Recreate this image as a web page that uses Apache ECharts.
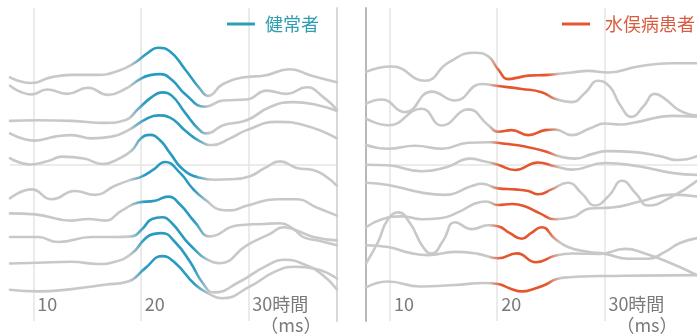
<!DOCTYPE html>
<html>
<head>
<meta charset="utf-8">
<script src="https://cdn.jsdelivr.net/npm/echarts@6/dist/echarts.min.js"></script>
<style>
html, body { margin: 0; padding: 0; background: #fff; }
#chart { width: 697px; height: 336px; }
</style>
</head>
<body>
<div id="chart"></div>
<script>
// Group names (legend) and time-axis labels
const groupNames = ['健常者', '水俣病患者'];
const tickLabels = { 10: '10', 20: '20', 30: '30時間' };
const unitLabel = '（ms）';

// Time window (ms) where each group's response is highlighted: fade-in start, full, full, fade-out end
const healthyWindow = [19.0, 20.4, 24.9, 26.4];
const patientWindow = [19.3, 20.4, 24.6, 25.8];

// 健常者: ten evoked traces, [time ms, amplitude offset]
const healthy1 = [[7.83,24.67],[9.85,24.1],[11.55,24.65],[13.6,24.93],[16.02,24.93],[17.88,25.33],[19.46,26.17],[20.67,27.17],[21.6,27.67],[22.72,27.3],[24.11,25.5],[25.51,23.5],[26.25,22.8],[27.65,24.0],[29.88,24.72],[31.37,24.83],[33.88,25.5],[35.74,24.9],[38.25,24.17]];
const healthy2 = [[7.83,23.83],[9.88,22.95],[11.28,23.45],[13.13,23.0],[15.09,23.62],[16.95,22.9],[18.53,23.5],[19.93,24.5],[20.86,24.9],[21.79,25.0],[22.9,24.4],[24.11,23.0],[25.97,21.7],[27.65,22.33],[29.85,22.43],[31.71,23.33],[33.57,23.0],[35.43,23.67],[36.95,22.7],[38.25,21.4]];
const healthy3 = [[7.83,20.27],[10.44,20.33],[13.57,20.27],[16.67,20.07],[18.53,20.33],[19.77,21.5],[21.01,22.67],[21.97,23.15],[22.9,22.8],[24.11,21.1],[25.32,19.5],[26.16,19.0],[27.65,19.83],[29.85,20.33],[32.02,21.67],[34.19,22.17],[36.57,21.83],[38.25,21.27]];
const healthy4 = [[7.83,19.0],[10.16,18.27],[12.02,18.67],[13.57,18.83],[15.43,18.5],[17.29,18.67],[18.84,19.33],[20.39,20.4],[21.63,20.83],[22.72,20.6],[24.11,19.3],[25.51,18.2],[26.63,17.83],[28.3,18.5],[29.85,19.33],[32.64,20.17],[35.2,19.83],[38.25,18.5]];
const healthy5 = [[7.83,16.5],[9.69,15.85],[11.37,16.2],[12.67,16.65],[14.72,16.45],[16.48,15.9],[17.88,16.4],[19.18,17.3],[20.02,18.5],[20.86,18.85],[21.79,18.3],[22.72,17.0],[23.93,15.35],[25.51,14.5],[26.9,14.3],[28.3,14.35],[30.16,14.67],[31.55,15.5],[32.95,16.17],[34.5,15.5],[36.02,15.3],[37.14,14.7],[38.25,13.7]];
const healthy6 = [[7.83,12.43],[9.85,13.33],[11.71,12.33],[13.88,13.17],[15.74,12.77],[17.6,13.7],[19.15,14.33],[20.02,14.6],[21.13,15.3],[22.25,16.1],[23.65,15.0],[24.89,13.33],[26.13,12.17],[27.28,11.3],[28.3,11.2],[29.85,11.67],[32.64,12.33],[34.5,12.33],[36.36,11.5],[38.25,10.67]];
const healthy7 = [[7.83,10.9],[10.16,10.8],[13.57,10.17],[15.09,10.33],[16.67,10.17],[18.22,11.17],[19.77,12.0],[21.32,12.17],[22.53,12.6],[23.65,11.8],[25.04,10.0],[26.44,8.57],[28.92,9.67],[31.4,9.83],[32.95,9.9],[34.19,9.33],[35.12,8.5],[36.67,8.1],[38.25,7.67]];
const healthy8 = [[7.83,8.5],[10.44,8.5],[12.3,8.0],[15.46,8.5],[17.6,8.5],[19.18,8.57],[20.11,9.3],[21.04,10.33],[21.97,10.5],[22.9,9.9],[24.58,7.7],[26.62,6.0],[27.37,5.85],[29.85,7.67],[32.02,8.83],[33.26,9.5],[34.5,9.17],[36.05,8.5],[38.25,8.17]];
const healthy9 = [[7.83,5.83],[10.44,5.9],[13.57,6.0],[16.02,5.77],[17.6,6.0],[19.15,6.83],[20.39,8.33],[21.13,8.8],[21.97,8.9],[23.18,8.0],[24.58,6.0],[25.79,3.8],[26.81,2.9],[29.23,4.0],[31.55,5.5],[33.41,6.2],[35.27,5.7],[36.86,4.7],[38.25,3.2]];
const healthy10 = [[7.83,3.17],[10.44,3.0],[13.57,3.23],[16.67,3.67],[18.81,4.0],[20.39,5.33],[21.97,6.57],[23.18,5.9],[25.04,3.7],[26.44,2.7],[27.56,2.3],[30.16,3.5],[32.48,5.0],[34.34,5.5],[36.2,5.3],[38.25,4.3]];

// 水俣病患者: ten evoked traces, [time ms, amplitude offset]
const patient1 = [[7.76,25.23],[10.16,25.77],[13.26,24.33],[15.44,26.17],[17.93,27.17],[19.17,26.8],[20.07,25.5],[21.04,24.5],[21.94,24.65],[22.9,24.85],[24.77,24.93],[26.95,25.17],[28.5,25.33],[30.37,25.17],[33.16,25.77],[36.28,26.1],[38.64,26.1]];
const patient2 = [[7.76,22.0],[9.23,22.43],[11.4,21.15],[13.89,23.23],[16.06,22.33],[18.55,24.0],[20.07,23.8],[22.29,23.5],[24.15,23.17],[25.39,22.5],[26.95,22.17],[28.19,23.1],[29.43,24.33],[30.52,23.7],[31.45,21.9],[32.55,20.67],[33.61,21.7],[34.72,23.0],[35.65,22.5],[37.05,21.3],[38.64,20.8]];
const patient3 = [[7.76,20.5],[9.84,19.83],[12.96,21.5],[14.82,19.8],[17.3,21.43],[19.17,19.83],[20.07,19.17],[21.35,19.33],[22.9,18.83],[24.46,19.33],[25.39,19.4],[26.95,18.83],[28.63,19.5],[30.06,20.0],[31.46,19.9],[33.13,20.17],[36.28,20.77],[38.64,20.7]];
const patient4 = [[7.76,17.83],[9.81,17.45],[12.33,17.75],[14.85,17.45],[17.28,18.05],[19.33,18.1],[20.73,17.95],[22.59,17.67],[24.46,17.2],[25.86,16.65],[27.26,16.45],[28.84,16.9],[30.34,17.2],[32.85,17.1],[35.18,16.7],[36.77,16.3],[38.64,16.7]];
const patient5 = [[7.76,15.83],[9.81,15.77],[12.96,15.17],[15.32,15.6],[17.46,16.45],[18.86,16.15],[20.07,15.83],[21.66,15.3],[23.81,16.05],[25.39,15.67],[26.95,15.33],[30.06,16.0],[33.16,15.67],[36.28,15.0],[38.64,14.8]];
const patient6 = [[7.76,14.0],[9.84,13.77],[12.96,13.0],[15.13,12.77],[17.62,13.67],[18.55,13.9],[20.07,13.43],[21.66,13.33],[22.9,13.17],[23.83,12.83],[25.08,13.33],[26.6,14.0],[27.91,12.9],[29.12,11.7],[30.43,12.7],[31.64,14.2],[32.95,12.9],[34.07,11.7],[36.31,12.6],[38.64,14.2]];
const patient7 = [[7.76,9.5],[9.25,10.3],[11.12,10.6],[12.99,10.3],[14.66,10.4],[16.34,11.0],[17.93,11.9],[18.96,12.1],[20.07,11.75],[21.38,11.85],[22.5,11.65],[23.99,10.9],[25.39,10.3],[26.98,10.5],[28.66,11.4],[30.71,11.5],[33.32,12.1],[36.31,12.8],[38.64,12.6]];
const patient8 = [[7.76,5.83],[8.88,8.0],[9.81,10.3],[10.77,11.0],[11.87,9.9],[13.08,7.5],[13.89,6.83],[14.94,8.1],[16.06,10.0],[17.65,9.3],[19.14,9.7],[20.07,9.6],[21.19,8.9],[22.29,8.33],[23.15,8.9],[24.15,9.5],[25.39,8.33],[26.6,7.5],[28.47,7.0],[30.06,6.8],[32.2,6.3],[34.07,6.3],[35.65,7.0],[37.05,7.9],[38.64,8.4]];
const patient9 = [[7.76,7.67],[9.81,7.5],[11.87,6.9],[13.54,6.67],[16.06,7.0],[18.21,6.8],[20.07,6.35],[21.84,6.85],[23.62,5.95],[25.39,6.6],[26.98,6.83],[29.59,6.8],[31.92,7.3],[33.79,6.83],[36.31,5.8],[38.64,4.65]];
const patient10 = [[7.76,3.4],[9.81,4.0],[12.8,3.5],[16.06,3.65],[18.86,3.85],[20.07,3.75],[21.19,3.3],[22.31,3.0],[23.53,3.3],[24.55,3.7],[25.49,4.23],[26.98,4.45],[29.59,4.55],[33.32,4.6],[38.64,4.65]];

const healthyTraces = [healthy1, healthy2, healthy3, healthy4, healthy5, healthy6, healthy7, healthy8, healthy9, healthy10];
const patientTraces = [patient1, patient2, patient3, patient4, patient5, patient6, patient7, patient8, patient9, patient10];

// Axis ranges (ms) for the two panels, amplitude range
const timeRange = [[7.83, 38.25], [7.76, 38.64]];
const ampRange = [0, 31.7];

const FONT = "'Noto Sans CJK JP', 'Noto Sans', sans-serif";
const GRAY = '#c8c8c8';
const BLUE = '#2a9bc0';
const ORANGE = '#e5562e';
const BLUE_TEXT = '#2c9db2';
const ORANGE_TEXT = '#d95b3e';
const GRID_LINE = '#e4e4e4';

const chart = echarts.init(document.getElementById('chart'), null, { renderer: 'canvas' });

// One line per trace; the response window is tinted with a horizontal gradient
function traceSeries(data, idx, color, win) {
  const t0 = data[0][0], t1 = data[data.length - 1][0];
  const off = t => Math.min(1, Math.max(0, (t - t0) / (t1 - t0)));
  return {
    type: 'line', xAxisIndex: idx, yAxisIndex: idx, data: data,
    showSymbol: false, smooth: 0.5, silent: true, animation: false,
    emphasis: { disabled: true },
    lineStyle: {
      width: 2.6, cap: 'round', join: 'round',
      color: new echarts.graphic.LinearGradient(0, 0, 1, 0, [
        { offset: 0, color: GRAY },
        { offset: off(win[0]), color: GRAY },
        { offset: off(win[1]), color: color },
        { offset: off(win[2]), color: color },
        { offset: off(win[3]), color: GRAY },
        { offset: 1, color: GRAY }
      ])
    }
  };
}

function legendSeries(name, idx, color) {
  return {
    type: 'line', name: name, xAxisIndex: idx, yAxisIndex: idx, data: [],
    itemStyle: { color: color }, lineStyle: { color: color, width: 3 }, showSymbol: false
  };
}

function xAxisFor(idx) {
  return {
    type: 'value', gridIndex: idx, min: timeRange[idx][0], max: timeRange[idx][1],
    minInterval: 10, maxInterval: 10,
    axisLine: { show: false }, axisTick: { show: false },
    splitLine: { show: true, showMinLine: false, showMaxLine: false, lineStyle: { color: GRID_LINE, width: 1.5 } },
    axisLabel: {
      show: true, showMinLabel: false, showMaxLabel: false,
      margin: -27, align: 'left', padding: [0, 0, 0, 4],
      color: '#7a7a7a', fontSize: 18, lineHeight: 21, fontFamily: FONT,
      formatter: v => (v === 30 ? '{a|' + tickLabels[30] + '}\n{b|' + unitLabel + '}' : (tickLabels[v] || '')),
      rich: {
        a: { color: '#7a7a7a', fontSize: 18, lineHeight: 21, fontFamily: FONT },
        b: { color: '#7a7a7a', fontSize: 18, lineHeight: 21, fontFamily: FONT, padding: [0, 0, 0, 8] }
      }
    }
  };
}

function yAxisFor(idx, position, borderColor) {
  return {
    type: 'value', gridIndex: idx, min: ampRange[0], max: ampRange[1], interval: (ampRange[1] - ampRange[0]) / 2,
    position: position,
    axisLine: { show: true, onZero: false, lineStyle: { color: borderColor, width: 2 } },
    axisTick: { show: false }, axisLabel: { show: false },
    splitLine: { show: true, showMinLine: false, showMaxLine: false, lineStyle: { color: GRID_LINE, width: 1.5 } }
  };
}

const series = [];
healthyTraces.forEach(d => series.push(traceSeries(d, 0, BLUE, healthyWindow)));
patientTraces.forEach(d => series.push(traceSeries(d, 1, ORANGE, patientWindow)));
series.push(legendSeries(groupNames[0], 0, BLUE_TEXT));
series.push(legendSeries(groupNames[1], 1, ORANGE));

chart.setOption({
  backgroundColor: '#fff',
  animation: false,
  grid: [
    { left: 10, top: 8, width: 327, height: 317 },
    { left: 366, top: 8, width: 331, height: 317 }
  ],
  xAxis: [xAxisFor(0), xAxisFor(1)],
  yAxis: [yAxisFor(0, 'right', '#d8d8d8'), yAxisFor(1, 'left', '#b8b8b8')],
  legend: [
    {
      data: [{ name: groupNames[0], textStyle: { color: BLUE_TEXT } }],
      left: 227, top: 13, padding: 0, icon: 'rect', itemWidth: 28, itemHeight: 3, selectedMode: false,
      textStyle: { fontSize: 18, lineHeight: 22, fontFamily: FONT, padding: [0, 0, 0, 5] }
    },
    {
      data: [{ name: groupNames[1], textStyle: { color: ORANGE_TEXT } }],
      left: 562, top: 13, padding: 0, icon: 'rect', itemWidth: 28, itemHeight: 3, selectedMode: false,
      textStyle: { fontSize: 18, lineHeight: 22, fontFamily: FONT, padding: [0, 0, 0, 10] }
    }
  ],
  series: series
});
</script>
</body>
</html>
